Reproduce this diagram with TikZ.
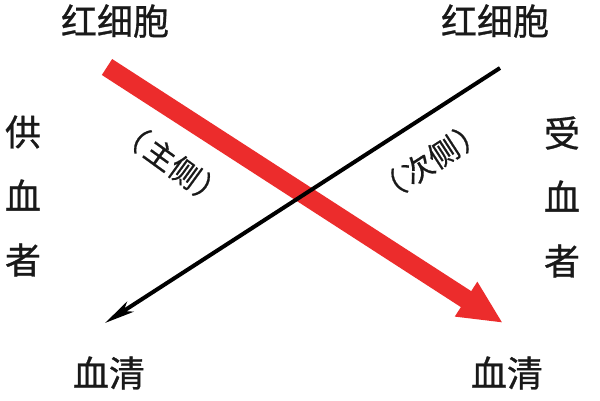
\documentclass[tikz,border=0pt]{standalone}
\usepackage{fontspec}
\setmainfont{Noto Sans CJK SC}
\usetikzlibrary{arrows.meta}
\definecolor{arrowred}{RGB}{236,44,44}
\tikzset{
  bigtxt/.style={font=\fontsize{36}{38}\selectfont\addfontfeature{FakeBold=0.8}, inner sep=0pt, text=black!90},
  sidetxt/.style={font=\fontsize{30}{32}\selectfont\addfontfeature{FakeBold=0.6}, inner sep=0pt, text=black!90},
  redarrow/.style={draw=arrowred, line width=19pt, -{Triangle[length=44pt,width=38pt]}},
  blackarrow/.style={draw=black, line width=4pt, -{Stealth[length=30pt,width=12pt,inset=8pt]}}
}
\begin{document}
\begin{tikzpicture}[x=1pt,y=-1pt]
\useasboundingbox[fill=white] (0,0) rectangle (600,400);
% text labels
\node[bigtxt] (rbcL) at (115,21) {红细胞};
\node[bigtxt] (rbcR) at (495,21) {红细胞};
\node[bigtxt] (d1) at (23,132) {供};
\node[bigtxt] (d2) at (23,195) {血};
\node[bigtxt] (d3) at (23,260) {者};
\node[bigtxt] (r1) at (562,133) {受};
\node[bigtxt] (r2) at (562,196) {血};
\node[bigtxt] (r3) at (562,261) {者};
\node[bigtxt] (serL) at (109,373) {血清};
\node[bigtxt] (serR) at (507,373) {血清};
\node[sidetxt, rotate=-36] (main) at (172,163) {（\hspace{4pt}主侧\hspace{2pt}）};
\node[sidetxt, rotate=33] (minor) at (430,161) {（\hspace{4pt}次侧\hspace{2pt}）};
% arrow end points
\coordinate (redS) at (107,67);
\coordinate (redE) at (503,323);
\coordinate (blkS) at (500,68);
\coordinate (blkE) at (105,323);
\draw[redarrow] (redS) -- (redE);
\draw[blackarrow] (blkS) -- (blkE);
\end{tikzpicture}
\end{document}
